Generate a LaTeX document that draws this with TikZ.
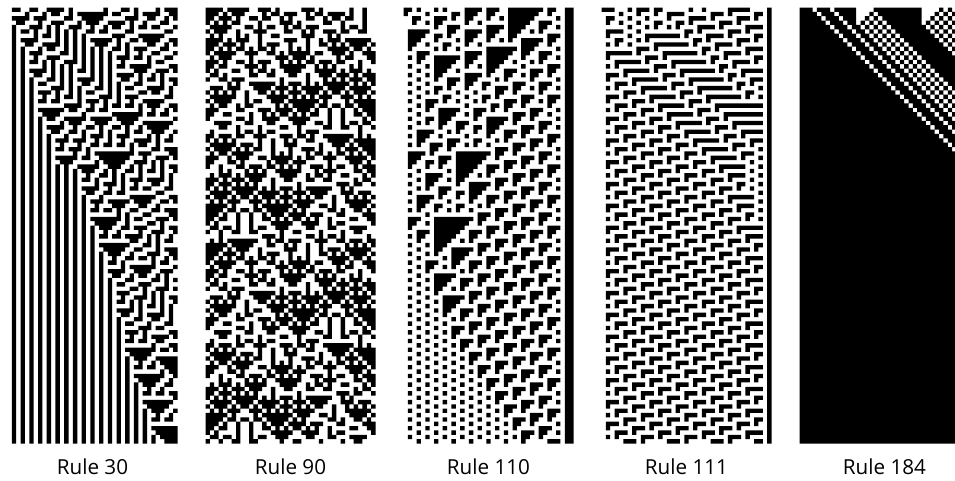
\documentclass[tikz,border=0pt]{standalone}
\usepackage{fontspec}
\setmainfont{Open Sans}
\ExplSyntaxOn
\int_new:N \g_ca_seed_int
\int_new:N \l_ca_start_int
\int_new:N \l_ca_tmp_int
\intarray_new:Nn \g_ca_a_intarray {41}
\intarray_new:Nn \g_ca_b_intarray {41}
\intarray_new:Nn \g_ca_rule_intarray {8}
\tl_new:N \g_ca_path_tl
\cs_new_protected:Npn \ca_set_rule:n #1
  {
    \int_set:Nn \l_ca_tmp_int {#1}
    \int_step_inline:nnn {1}{8}
      {
        \intarray_gset:Nnn \g_ca_rule_intarray {##1} { \int_mod:nn {\l_ca_tmp_int}{2} }
        \int_set:Nn \l_ca_tmp_int { \int_div_truncate:nn {\l_ca_tmp_int}{2} }
      }
  }
\cs_new_protected:Npn \ca_init:nn #1#2
  {
    \int_gset:Nn \g_ca_seed_int {#1}
    \intarray_gset:Nnn \g_ca_a_intarray {1} {0}
    \intarray_gset:Nnn \g_ca_a_intarray {41} {0}
    \int_step_inline:nnn {2}{40}
      {
        \int_gset:Nn \g_ca_seed_int { \int_mod:nn { \g_ca_seed_int * 75 + 74 } {65537} }
        \intarray_gset:Nnn \g_ca_a_intarray {##1}
          { \int_compare:nNnTF {\g_ca_seed_int} < {#2} {1} {0} }
      }
  }
\cs_new_protected:Npn \ca_init_str:n #1
  {
    \intarray_gset:Nnn \g_ca_a_intarray {1} {0}
    \intarray_gset:Nnn \g_ca_a_intarray {41} {0}
    \int_set:Nn \l_ca_tmp_int {2}
    \tl_map_inline:nn {#1}
      {
        \intarray_gset:Nnn \g_ca_a_intarray {\l_ca_tmp_int} {##1}
        \int_incr:N \l_ca_tmp_int
      }
  }
\cs_new_protected:Npn \ca_row:n #1
  {
    \int_set:Nn \l_ca_start_int {-1}
    \int_step_inline:nnn {2}{40}
      {
        \int_compare:nNnTF { \intarray_item:Nn \g_ca_a_intarray {##1} } = {0}
          { \int_compare:nNnT {\l_ca_start_int} < {0} { \int_set:Nn \l_ca_start_int {##1} } }
          {
            \int_compare:nNnT {\l_ca_start_int} > {0}
              {
                \tl_gput_right:Nx \g_ca_path_tl
                  { ~(\int_eval:n{\l_ca_start_int-2},#1)~rectangle~(\int_eval:n{##1-2},\int_eval:n{#1+1})~ }
                \int_set:Nn \l_ca_start_int {-1}
              }
          }
      }
    \int_compare:nNnT {\l_ca_start_int} > {0}
      {
        \tl_gput_right:Nx \g_ca_path_tl
          { ~(\int_eval:n{\l_ca_start_int-2},#1)~rectangle~(39,\int_eval:n{#1+1})~ }
      }
  }
\cs_new_protected:Npn \ca_step:
  {
    \int_step_inline:nnn {2}{40}
      {
        \intarray_gset:Nnn \g_ca_b_intarray {##1}
          {
            \intarray_item:Nn \g_ca_rule_intarray
              {
                4*\intarray_item:Nn \g_ca_a_intarray {##1-1}
                + 2*\intarray_item:Nn \g_ca_a_intarray {##1}
                + \intarray_item:Nn \g_ca_a_intarray {##1+1} + 1
              }
          }
      }
    \int_step_inline:nnn {2}{40}
      { \intarray_gset:Nnn \g_ca_a_intarray {##1} { \intarray_item:Nn \g_ca_b_intarray {##1} } }
  }
\cs_new_protected:Npn \ca_draw:nn #1#2
  {
    \ca_set_rule:n {#1}
    \tl_gset:Nn \g_ca_path_tl { \fill[black] }
    \int_step_inline:nnn {0}{#2-1}
      { \ca_row:n {##1} \ca_step: }
    \tl_gput_right:Nn \g_ca_path_tl { ; }
    \tl_use:N \g_ca_path_tl
  }
% rule, seed, threshold
\NewDocumentCommand \CArandom {mmm} { \ca_init:nn {#2}{#3} \ca_draw:nn {#1}{100} }
% same, with the last cell forced to 0
\NewDocumentCommand \CArandomz {mmm}
  { \ca_init:nn {#2}{#3} \intarray_gset:Nnn \g_ca_a_intarray {40} {0} \ca_draw:nn {#1}{100} }
% rule, initial row as 39 digits (1 = white, 0 = black)
\NewDocumentCommand \CAstring {mm} { \ca_init_str:n {#2} \ca_draw:nn {#1}{100} }
\ExplSyntaxOff
\tikzset{
  panel/.style={shift={#1}, x=3.27pt, y=-3.27pt},
  rulelabel/.style={font=\fontsize{15.5}{18}\selectfont, text=black, anchor=base}
}
\begin{document}
\begin{tikzpicture}[x=0.75pt, y=-0.75pt]
\useasboundingbox (0,0) rectangle (955,480);
\fill[white] (0,0) rectangle (955,480);
\begin{scope}
\clip (0,0) rectangle (955,480);
\begin{scope}[panel={(7.5,7.5)}]
  \CArandom{30}{12345}{32768}
\end{scope}
\begin{scope}[panel={(205.5,7.5)}]
  \CArandom{90}{2222}{32768}
\end{scope}
\begin{scope}[panel={(403.5,7.5)}]
  \CArandomz{110}{777}{32768}
\end{scope}
\begin{scope}[panel={(601.5,7.5)}]
  \CArandom{111}{4321}{32768}
\end{scope}
\begin{scope}[panel={(799.5,7.5)}]
  \CAstring{184}{000100010000011110000000000011110101010}
\end{scope}
\end{scope}
\node[rulelabel] (l30) at (92.5,474) {Rule 30};
\node[rulelabel] (l90) at (290.5,474) {Rule 90};
\node[rulelabel] (l110) at (488.5,474) {Rule 110};
\node[rulelabel] (l111) at (686.5,474) {Rule 111};
\node[rulelabel] (l184) at (884.5,474) {Rule 184};
\end{tikzpicture}
\end{document}
